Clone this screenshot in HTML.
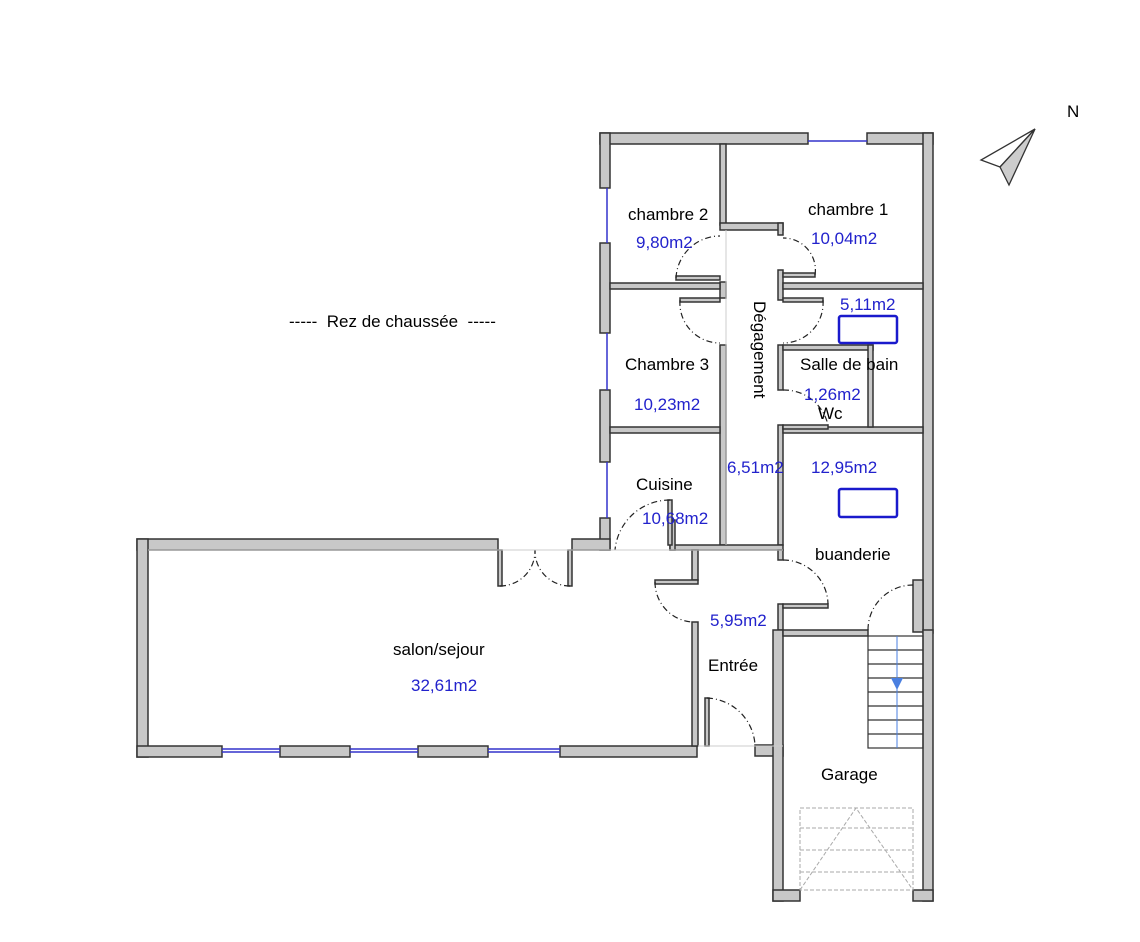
<!DOCTYPE html>
<html><head><meta charset="utf-8"><style>
body{margin:0;background:#fff}
svg{display:block}
text{font-family:"Liberation Sans",sans-serif;font-size:17px}
.b{fill:#2222cc}
</style></head><body>
<svg width="1140" height="942" viewBox="0 0 1140 942">
<g fill="#c8c8c8" stroke="#333" stroke-width="1.5">
<rect x="600" y="133" width="208" height="11"/>
<rect x="867" y="133" width="66" height="11"/>
<rect x="600" y="133" width="10" height="55"/>
<rect x="600" y="243" width="10" height="90"/>
<rect x="600" y="390" width="10" height="72"/>
<rect x="600" y="518" width="10" height="32"/>
<rect x="923" y="133" width="10" height="500"/>
<rect x="913" y="580" width="10" height="52"/>
<rect x="923" y="630" width="10" height="271"/>
<rect x="720" y="144" width="6" height="81"/>
<rect x="720" y="223" width="63" height="7"/>
<rect x="778" y="223" width="5" height="12"/>
<rect x="778" y="270" width="5" height="30"/>
<rect x="778" y="345" width="5" height="45"/>
<rect x="778" y="425" width="5" height="120"/>
<rect x="720" y="282" width="6" height="16"/>
<rect x="720" y="345" width="6" height="200"/>
<rect x="610" y="283" width="110" height="6"/>
<rect x="783" y="283" width="140" height="6"/>
<rect x="610" y="427" width="110" height="6"/>
<rect x="783" y="427" width="140" height="6"/>
<rect x="783" y="345" width="90" height="5"/>
<rect x="868" y="345" width="5" height="82"/>
<rect x="670" y="545" width="113" height="5"/>
<rect x="670" y="520" width="5" height="30"/>
<rect x="137" y="539" width="361" height="11"/>
<rect x="572" y="539" width="38" height="11"/>
<rect x="137" y="539" width="11" height="218"/>
<rect x="137" y="746" width="85" height="11"/>
<rect x="280" y="746" width="70" height="11"/>
<rect x="418" y="746" width="70" height="11"/>
<rect x="560" y="746" width="137" height="11"/>
<rect x="498" y="550" width="4" height="36"/>
<rect x="568" y="550" width="4" height="36"/>
<rect x="692" y="550" width="6" height="30"/>
<rect x="655" y="580" width="43" height="4"/>
<rect x="692" y="622" width="6" height="124"/>
<rect x="705" y="698" width="4" height="48"/>
<rect x="755" y="745" width="28" height="11"/>
<rect x="778" y="550" width="5" height="10"/>
<rect x="778" y="604" width="5" height="26"/>
<rect x="783" y="604" width="45" height="4"/>
<rect x="773" y="630" width="10" height="271"/>
<rect x="783" y="630" width="85" height="6"/>
<rect x="773" y="890" width="27" height="11"/>
<rect x="913" y="890" width="20" height="11"/>
<rect x="676" y="276" width="44" height="4"/>
<rect x="680" y="298" width="40" height="4"/>
<rect x="783" y="273" width="32" height="4"/>
<rect x="783" y="298" width="40" height="4"/>
<rect x="783" y="425" width="45" height="4"/>
<rect x="668" y="500" width="4" height="45"/>
</g>
<g stroke="#3333cc" stroke-width="1.5" fill="none">
<line x1="808" y1="141" x2="867" y2="141"/>
<line x1="607" y1="188" x2="607" y2="243"/>
<line x1="607" y1="333" x2="607" y2="390"/>
<line x1="607" y1="462" x2="607" y2="518"/>
<line x1="222" y1="749" x2="280" y2="749"/><line x1="222" y1="752" x2="280" y2="752"/>
<line x1="350" y1="749" x2="418" y2="749"/><line x1="350" y1="752" x2="418" y2="752"/>
<line x1="488" y1="749" x2="560" y2="749"/><line x1="488" y1="752" x2="560" y2="752"/>
</g>
<g stroke="#222" stroke-width="1.2" fill="none" stroke-dasharray="6,3,1,3">
<path d="M676 278 A44 44 0 0 1 720 236"/>
<path d="M680 300 A40 40 0 0 0 720 343"/>
<path d="M815 275 A32 32 0 0 0 783 238"/>
<path d="M823 300 A40 40 0 0 1 783 343"/>
<path d="M783 390 A45 45 0 0 1 828 425"/>
<path d="M670 500 A55 55 0 0 0 615 550"/>
<path d="M500 586 A35 35 0 0 0 535 550"/>
<path d="M570 586 A35 35 0 0 1 535 550"/>
<path d="M655 582 A40 40 0 0 0 692 622"/>
<path d="M707 698 A50 50 0 0 1 755 745"/>
<path d="M783 560 A45 45 0 0 1 828 604"/>
<path d="M868 630 A45 45 0 0 1 913 585"/>
</g>
<g stroke="#ccc" stroke-width="1" fill="none">
<line x1="726" y1="230" x2="726" y2="545"/>
<line x1="610" y1="550" x2="783" y2="550"/>
<line x1="148" y1="550" x2="690" y2="550"/>
<line x1="698" y1="746" x2="783" y2="746"/>
</g>
<g stroke="#333" stroke-width="1.2" fill="none">
<rect x="868" y="636" width="55" height="112"/>
<line x1="868" y1="650" x2="923" y2="650"/><line x1="868" y1="664" x2="923" y2="664"/>
<line x1="868" y1="678" x2="923" y2="678"/><line x1="868" y1="692" x2="923" y2="692"/>
<line x1="868" y1="706" x2="923" y2="706"/><line x1="868" y1="720" x2="923" y2="720"/>
<line x1="868" y1="734" x2="923" y2="734"/>
</g>
<line x1="897" y1="636" x2="897" y2="748" stroke="#4a7fe0" stroke-width="1"/>
<polygon points="891,678 903,678 897,690" fill="#4a7fe0"/>
<g stroke="#aaa" stroke-width="1" fill="none" stroke-dasharray="4,2">
<rect x="800" y="808" width="113" height="82"/>
<line x1="800" y1="828" x2="913" y2="828"/><line x1="800" y1="850" x2="913" y2="850"/><line x1="800" y1="872" x2="913" y2="872"/>
<path d="M800 890 L856 808 L913 890"/>
</g>
<rect x="839" y="316" width="58" height="27" fill="none" stroke="#1a1acc" stroke-width="2.5" rx="2"/>
<rect x="839" y="489" width="58" height="28" fill="none" stroke="#1a1acc" stroke-width="2.5" rx="2"/>
<polygon points="1035,129 981,160 1000,167" fill="#fff" stroke="#333" stroke-width="1.3"/>
<polygon points="1035,129 1000,167 1009,185" fill="#ccc" stroke="#333" stroke-width="1.3"/>
<text x="1067" y="117">N</text>
<text x="289" y="327" xml:space="preserve">-----  Rez de chaussée  -----</text>
<text x="628" y="220">chambre 2</text>
<text x="636" y="248" class="b">9,80m2</text>
<text x="808" y="215">chambre 1</text>
<text x="811" y="244" class="b">10,04m2</text>
<text x="840" y="310" class="b">5,11m2</text>
<text x="625" y="370">Chambre 3</text>
<text x="634" y="410" class="b">10,23m2</text>
<text x="800" y="370">Salle de bain</text>
<text x="804" y="400" class="b">1,26m2</text>
<text x="818" y="419">Wc</text>
<text x="754" y="301" transform="rotate(90 754 301)">Dégagement</text>
<text x="727" y="473" class="b">6,51m2</text>
<text x="811" y="473" class="b">12,95m2</text>
<text x="636" y="490">Cuisine</text>
<text x="642" y="524" class="b">10,68m2</text>
<text x="815" y="560">buanderie</text>
<text x="710" y="626" class="b">5,95m2</text>
<text x="393" y="655">salon/sejour</text>
<text x="411" y="691" class="b">32,61m2</text>
<text x="708" y="671">Entrée</text>
<text x="821" y="780">Garage</text>
</svg>
</body></html>
